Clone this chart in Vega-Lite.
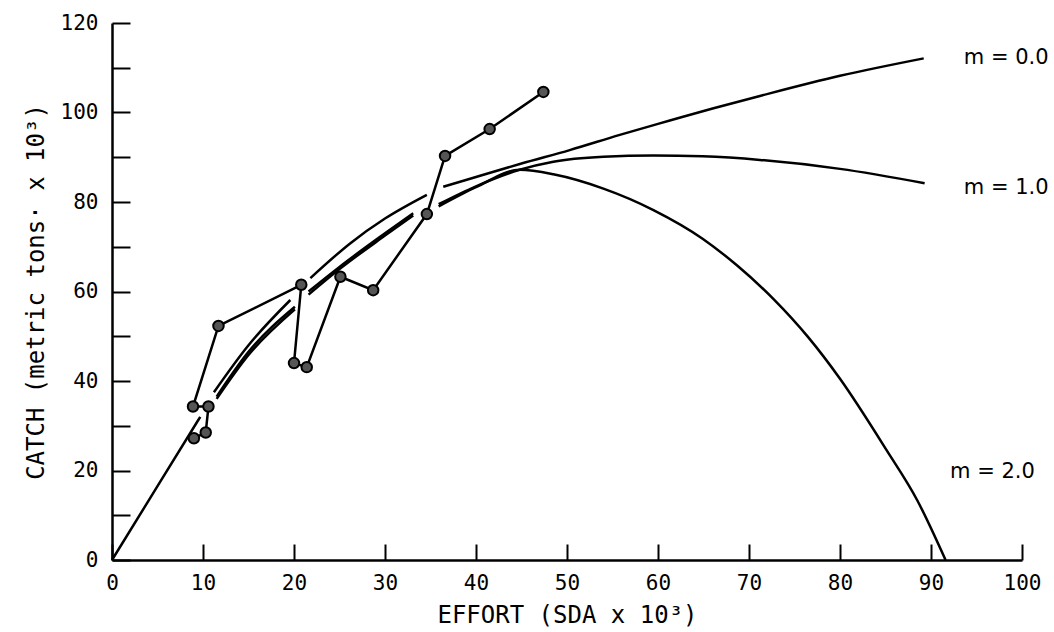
{
  "$schema": "https://vega.github.io/schema/vega-lite/v6.json",
  "width": 910,
  "height": 537,
  "autosize": {"type": "none"},
  "padding": {"left": 112, "top": 23, "right": 32, "bottom": 72},
  "background": "white",
  "config": {
    "view": {"stroke": null},
    "font": "DejaVu Sans Mono",
    "axis": {
      "domainColor": "black",
      "domainWidth": 2.5,
      "tickColor": "black",
      "tickWidth": 2,
      "labelColor": "black",
      "titleColor": "black",
      "labelFont": "DejaVu Sans Mono",
      "titleFont": "DejaVu Sans Mono",
      "labelFontSize": 21,
      "titleFontSize": 24,
      "titleFontWeight": "normal",
      "grid": false
    }
  },
  "datasets": {
    "curves": [
      {"curve": "m0", "seg": "m0a", "effort": 0, "catch": 0},
      {"curve": "m0", "seg": "m0a", "effort": 5, "catch": 16.5},
      {"curve": "m0", "seg": "m0a", "effort": 9.7, "catch": 32},
      {"curve": "m0", "seg": "m0b", "effort": 11.2, "catch": 37.5},
      {"curve": "m0", "seg": "m0b", "effort": 15, "catch": 48},
      {"curve": "m0", "seg": "m0b", "effort": 19.6, "catch": 58.1},
      {"curve": "m0", "seg": "m0c", "effort": 21.8, "catch": 63},
      {"curve": "m0", "seg": "m0c", "effort": 26.2, "catch": 70.8},
      {"curve": "m0", "seg": "m0c", "effort": 30, "catch": 76.3},
      {"curve": "m0", "seg": "m0c", "effort": 34.6, "catch": 81.6},
      {"curve": "m0", "seg": "m0d", "effort": 36.4, "catch": 83.4},
      {"curve": "m0", "seg": "m0d", "effort": 40, "catch": 85.6},
      {"curve": "m0", "seg": "m0d", "effort": 45, "catch": 88.6},
      {"curve": "m0", "seg": "m0d", "effort": 50.3, "catch": 91.6},
      {"curve": "m0", "seg": "m0d", "effort": 55.8, "catch": 95},
      {"curve": "m0", "seg": "m0d", "effort": 61.3, "catch": 98.2},
      {"curve": "m0", "seg": "m0d", "effort": 66, "catch": 100.9},
      {"curve": "m0", "seg": "m0d", "effort": 71.2, "catch": 103.7},
      {"curve": "m0", "seg": "m0d", "effort": 80, "catch": 108.2},
      {"curve": "m0", "seg": "m0d", "effort": 89.2, "catch": 112.1},
      {"curve": "m1", "seg": "m1b", "effort": 11.5, "catch": 36.5},
      {"curve": "m1", "seg": "m1b", "effort": 15, "catch": 46.5},
      {"curve": "m1", "seg": "m1b", "effort": 20.1, "catch": 56.6},
      {"curve": "m1", "seg": "m1c", "effort": 21.6, "catch": 60},
      {"curve": "m1", "seg": "m1c", "effort": 25, "catch": 65.5},
      {"curve": "m1", "seg": "m1c", "effort": 30, "catch": 73},
      {"curve": "m1", "seg": "m1c", "effort": 33.1, "catch": 77.5},
      {"curve": "m1", "seg": "m1d", "effort": 35.9, "catch": 79.5},
      {"curve": "m1", "seg": "m1d", "effort": 40, "catch": 83.5},
      {"curve": "m1", "seg": "m1d", "effort": 44.8, "catch": 87.2},
      {"curve": "m1", "seg": "m1d", "effort": 48.5, "catch": 89},
      {"curve": "m1", "seg": "m1d", "effort": 54, "catch": 90.1},
      {"curve": "m1", "seg": "m1d", "effort": 59.5, "catch": 90.4},
      {"curve": "m1", "seg": "m1d", "effort": 64.9, "catch": 90.2},
      {"curve": "m1", "seg": "m1d", "effort": 71.2, "catch": 89.4},
      {"curve": "m1", "seg": "m1d", "effort": 80, "catch": 87.4},
      {"curve": "m1", "seg": "m1d", "effort": 89.3, "catch": 84.2},
      {"curve": "m2", "seg": "m2b", "effort": 11.5, "catch": 36},
      {"curve": "m2", "seg": "m2b", "effort": 15, "catch": 45.8},
      {"curve": "m2", "seg": "m2b", "effort": 20.1, "catch": 56},
      {"curve": "m2", "seg": "m2c", "effort": 21.6, "catch": 59.3},
      {"curve": "m2", "seg": "m2c", "effort": 25, "catch": 65},
      {"curve": "m2", "seg": "m2c", "effort": 30, "catch": 72.5},
      {"curve": "m2", "seg": "m2c", "effort": 33.1, "catch": 77},
      {"curve": "m2", "seg": "m2d", "effort": 35.9, "catch": 79},
      {"curve": "m2", "seg": "m2d", "effort": 40, "catch": 83.3},
      {"curve": "m2", "seg": "m2d", "effort": 44.8, "catch": 87.2},
      {"curve": "m2", "seg": "m2d", "effort": 48.5, "catch": 86.2},
      {"curve": "m2", "seg": "m2d", "effort": 54, "catch": 83},
      {"curve": "m2", "seg": "m2d", "effort": 59.5, "catch": 78.2},
      {"curve": "m2", "seg": "m2d", "effort": 64.9, "catch": 71.8},
      {"curve": "m2", "seg": "m2d", "effort": 68.7, "catch": 65.8},
      {"curve": "m2", "seg": "m2d", "effort": 72.7, "catch": 58.3},
      {"curve": "m2", "seg": "m2d", "effort": 76.5, "catch": 49.8},
      {"curve": "m2", "seg": "m2d", "effort": 80, "catch": 40.5},
      {"curve": "m2", "seg": "m2d", "effort": 85.1, "catch": 24.6},
      {"curve": "m2", "seg": "m2d", "effort": 88.5, "catch": 13.3},
      {"curve": "m2", "seg": "m2d", "effort": 91.6, "catch": 0}
    ],
    "obs": [
      {"i": 1, "effort": 9.0, "catch": 27.2},
      {"i": 2, "effort": 10.3, "catch": 28.5},
      {"i": 3, "effort": 10.6, "catch": 34.3},
      {"i": 4, "effort": 8.9, "catch": 34.3},
      {"i": 5, "effort": 11.7, "catch": 52.3},
      {"i": 6, "effort": 20.8, "catch": 61.5},
      {"i": 7, "effort": 20.0, "catch": 44.0},
      {"i": 8, "effort": 21.4, "catch": 43.1},
      {"i": 9, "effort": 25.1, "catch": 63.3},
      {"i": 10, "effort": 28.7, "catch": 60.3},
      {"i": 11, "effort": 34.6, "catch": 77.3},
      {"i": 12, "effort": 36.6, "catch": 90.3},
      {"i": 13, "effort": 41.5, "catch": 96.3},
      {"i": 14, "effort": 47.4, "catch": 104.6}
    ],
    "labels": [
      {"label": "m = 0.0", "effort": 93.6, "catch": 112.2},
      {"label": "m = 1.0", "effort": 93.6, "catch": 83.1},
      {"label": "m = 2.0", "effort": 92.1, "catch": 19.7}
    ]
  },
  "encoding": {
    "x": {
      "field": "effort",
      "type": "quantitative",
      "scale": {"domain": [0, 100], "nice": false, "zero": true},
      "axis": {
        "title": "EFFORT (SDA x 10³)",
        "values": [0, 10, 20, 30, 40, 50, 60, 70, 80, 90, 100],
        "tickSize": -16,
        "labelPadding": 28,
        "titlePadding": 10,
        "labelFlush": false
      }
    },
    "y": {
      "field": "catch",
      "type": "quantitative",
      "scale": {"domain": [0, 120], "nice": false},
      "axis": {
        "title": "CATCH (metric tons· x 10³)",
        "values": [0, 10, 20, 30, 40, 50, 60, 70, 80, 90, 100, 110, 120],
        "labelExpr": "datum.value % 20 == 0 ? datum.label : ''",
        "tickSize": -18,
        "labelPadding": 32,
        "titlePadding": 12,
        "labelFlush": false
      }
    }
  },
  "layer": [
    {
      "data": {"name": "curves"},
      "mark": {"type": "line", "color": "black", "strokeWidth": 2.5, "interpolate": "monotone"},
      "encoding": {"detail": {"field": "seg"}}
    },
    {
      "data": {"name": "obs"},
      "mark": {"type": "line", "color": "black", "strokeWidth": 2.5},
      "encoding": {"order": {"field": "i", "type": "quantitative"}}
    },
    {
      "data": {"name": "obs"},
      "mark": {"type": "point", "shape": "circle", "size": 110, "filled": true, "fill": "#555555", "stroke": "black", "strokeWidth": 2, "opacity": 1}
    },
    {
      "data": {"name": "labels"},
      "mark": {"type": "text", "align": "left", "baseline": "middle", "fontSize": 21, "color": "black", "font": "DejaVu Sans"},
      "encoding": {"text": {"field": "label"}}
    }
  ]
}
